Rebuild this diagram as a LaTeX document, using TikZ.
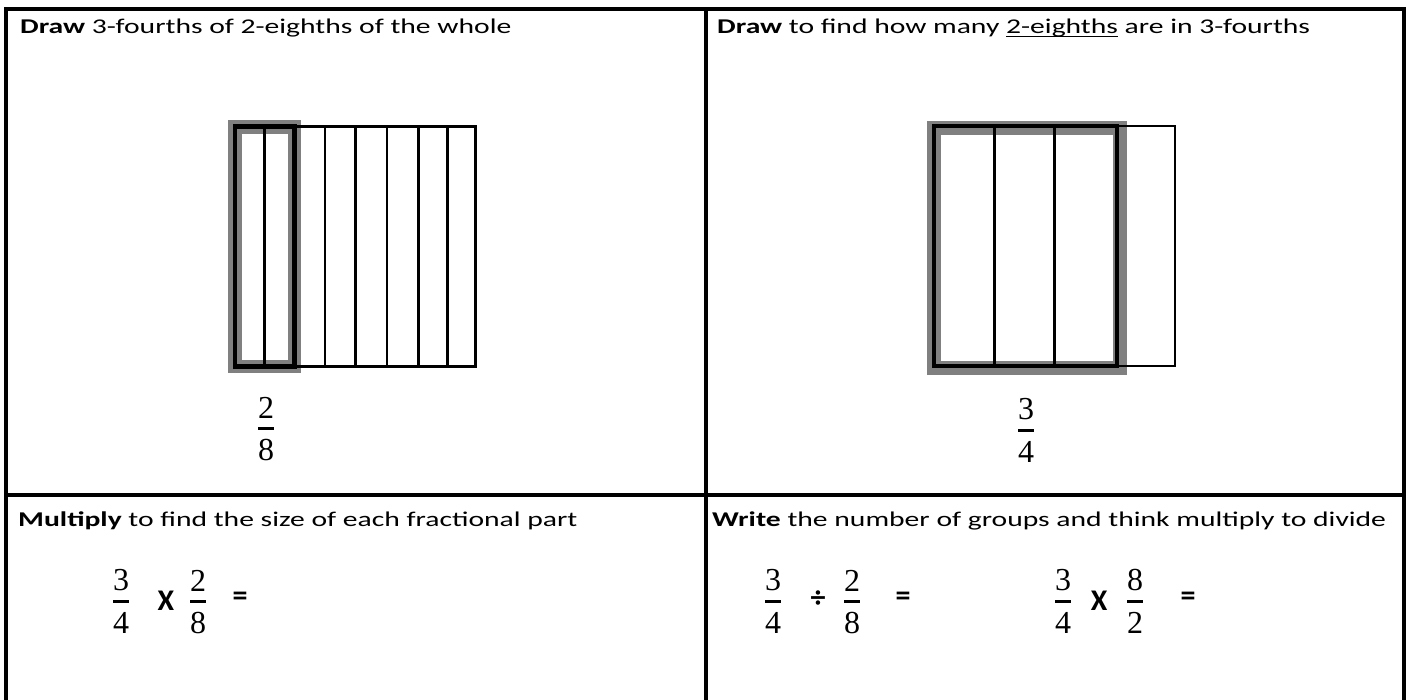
\documentclass[tikz,border=0pt]{standalone}
\usepackage[no-math]{fontspec}
\setmainfont{Carlito}
\newfontfamily\numfont{Liberation Serif}
\usepackage{amsmath}
\newcommand\wide[1]{\scalebox{1.41}[1]{#1}}
\newcommand\myul[1]{\setbox0\hbox{#1}\rlap{\rule[-3.2pt]{\wd0}{1.6pt}}\box0\relax}
\newcommand\fr[2]{$\displaystyle\genfrac{}{}{3pt}{}{\text{\numfont #1}}{\text{\numfont #2}}$}
\begin{document}
\begin{tikzpicture}[x=1pt,y=-1pt,
  txt/.style={anchor=base west,inner sep=0pt,font=\fontsize{21}{25}\selectfont},
  frac/.style={anchor=base,inner sep=0pt,font=\fontsize{32}{38}\selectfont},
  op/.style={inner sep=0pt,font=\fontsize{30}{36}\selectfont\bfseries},
  border/.style={line width=4pt,line cap=rect},
  band/.style={draw=black!50,line width=13.5pt},
  thinline/.style={line width=2.8pt},
  thickline/.style={line width=4.6pt}]
\useasboundingbox (0,0) rectangle (1408,700);
% outer frame and cell dividers
\coordinate (tl) at (6,9);
\coordinate (tr) at (1404,9);
\coordinate (bl) at (6,704);
\coordinate (br) at (1404,704);
\coordinate (mt) at (706,9);
\coordinate (mb) at (706,704);
\coordinate (ml) at (6,495);
\coordinate (mr) at (1404,495);
\draw[border] (bl) -- (tl) -- (tr) -- (br);
\draw[border] (mt) -- (mb);
\draw[border] (ml) -- (mr);

% titles
\node[txt] (t1) at (20,34) {\wide{\textbf{Draw} 3-fourths of 2-eighths of the whole}};
\node[txt] (t2) at (717,34) {\wide{\textbf{Draw} to find how many \myul{2-eighths} are in 3-fourths}};
\node[txt] (t3) at (18,526) {\wide{\textbf{Multiply} to find the size of each fractional part}};
\node[txt] (t4) at (712,526) {\wide{\textbf{Write} the number of groups and think multiply to divide}};

% left model: eighths, two of them outlined
\draw[band] (235,127) rectangle (294.5,366.5);
\draw[thinline] (235,126.5) rectangle (475.5,366.5);
\foreach \x in {264.5,325,355.7,387,418.5,447.7}
  \draw[thinline] (\x,126.5) -- (\x,366.5);
\draw[thickline] (235,126.5) rectangle (294.5,366.5);
\node[frac] (f1) at (266,435) {\fr{2}{8}};

% right model: fourths, three of them outlined
\draw[band] (934,128) rectangle (1120,368);
\draw[thinline] (934,126) rectangle (1175,366);
\foreach \x in {994.25,1054.5}
  \draw[thinline] (\x,126) -- (\x,366);
\draw[thickline] (934,126) rectangle (1117,366);
\node[frac] (f2) at (1026,437) {\fr{3}{4}};

% bottom left equation
\node[frac] (a1) at (121,608) {\fr{3}{4}};
\node[op] (a2) at (166,601) {X};
\node[frac] (a3) at (198,608) {\fr{2}{8}};
\node[op] (a4) at (240,599) {=};

% bottom right equations
\node[frac] (b1) at (773,608) {\fr{3}{4}};
\node[op] (b2) at (818,599) {÷};
\node[frac] (b3) at (852,608) {\fr{2}{8}};
\node[op] (b4) at (903,599) {=};
\node[frac] (c1) at (1063,608) {\fr{3}{4}};
\node[op] (c2) at (1099,601) {X};
\node[frac] (c3) at (1135,608) {\fr{8}{2}};
\node[op] (c4) at (1188,599) {=};
\end{tikzpicture}
\end{document}
